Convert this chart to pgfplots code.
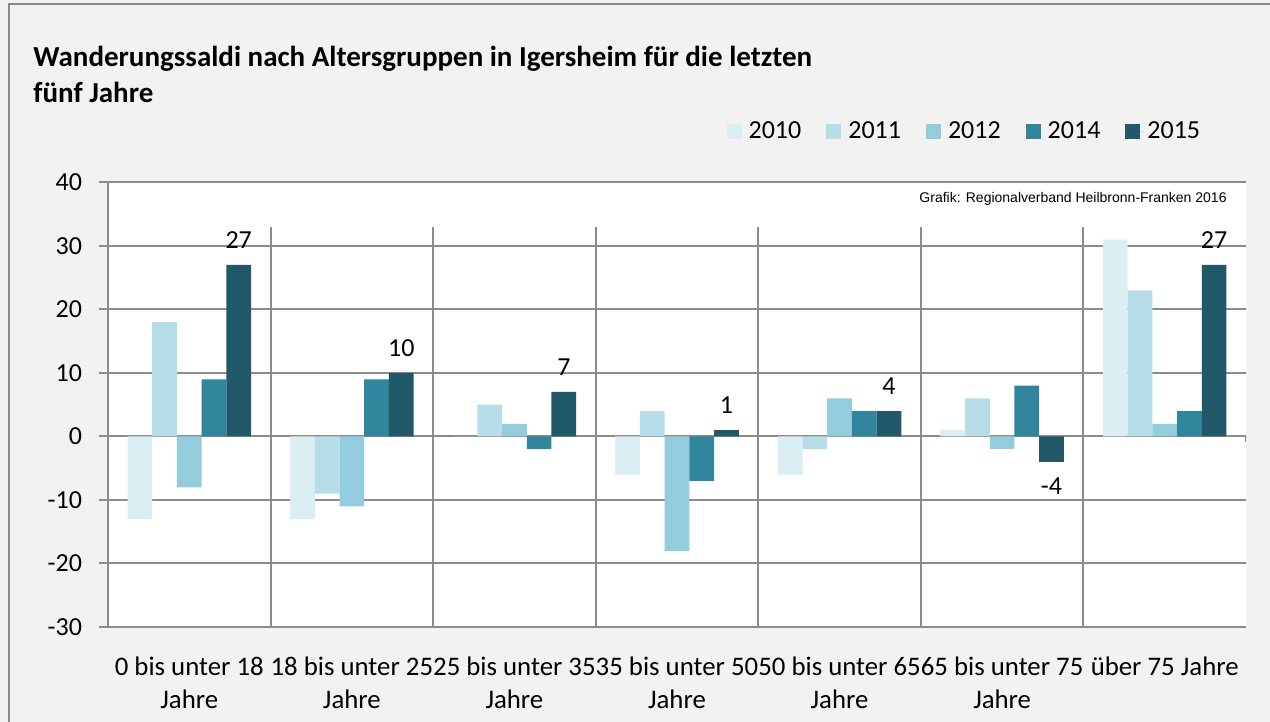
\documentclass[border=0pt]{standalone}
\usepackage{fontspec}
\setmainfont{Carlito}
\newfontfamily\arialfont{Liberation Sans}
\usepackage{pgfplots}
\pgfplotsset{compat=1.18}
\definecolor{cA}{HTML}{DBEEF4}
\definecolor{cB}{HTML}{B7DEE8}
\definecolor{cC}{HTML}{93CDDD}
\definecolor{cD}{HTML}{31859C}
\definecolor{cE}{HTML}{215968}
\definecolor{bg}{HTML}{F2F2F2}
\definecolor{gridgray}{HTML}{8C8C8C}
\begin{document}
\begin{tikzpicture}[x=0.5pt,y=0.5pt]
\useasboundingbox (0,0) rectangle (1270,722);
\fill[bg] (0,0) rectangle (1270,722);
\draw[gridgray, line width=1pt] (9,-10) -- (9,717.5) -- (1280,717.5);
\node[anchor=base west, inner sep=0, font=\bfseries\fontsize{14.5}{17}\selectfont] at (33,655) {Wanderungssaldi nach Altersgruppen in Igersheim für die letzten};
\node[anchor=base west, inner sep=0, font=\bfseries\fontsize{14.5}{17}\selectfont] at (33,619) {fünf Jahre};
\begin{axis}[
  at={(54pt,47.5pt)}, anchor=south west,
  scale only axis, width=569pt, height=222.3pt,
  xmin=-0.5, xmax=6.5, ymin=-30, ymax=40,
  ytick={-30,-20,...,40},
  xtick={0,...,6},
  xticklabels={{0 bis unter 18\\Jahre},{18 bis unter 25\\Jahre},{25 bis unter 35\\Jahre},{35 bis unter 50\\Jahre},{50 bis unter 65\\Jahre},{65 bis unter 75\\Jahre},{über 75 Jahre}},
  xticklabel style={align=center, font=\fontsize{13.4}{16.5}\selectfont},
  yticklabel style={font=\fontsize{13}{15}\selectfont},
  /pgf/number format/assume math mode=true,
  xticklabel shift=7pt,
  yticklabel shift=5pt,
  axis lines*=left,
  axis line style={gridgray, line width=1pt},
  x tick style={draw=none},
  y tick style={gridgray, line width=1pt},
  tick align=outside,
  major tick length=4.5pt,
  ymajorgrids,
  grid style={gridgray, line width=1pt},
  axis background/.style={fill=white},
  ybar=0pt, bar width=0.152,
  area legend,
  legend image code/.code={\path (0pt,0pt) -- (9pt,0pt); \fill[#1] (0pt,-3.75pt) rectangle (7.5pt,3.75pt);},
  legend style={at={(0.9636,1.114)}, anchor=east, draw=none, fill=none, inner sep=0pt,
    font=\fontsize{13}{15}\selectfont,
    /tikz/every even column/.append style={column sep=10.5pt}},
  legend columns=-1,
]
\pgfplotsinvokeforeach{0.5,1.5,2.5,3.5,4.5,5.5}{
  \draw[gridgray, line width=1pt] (axis cs:#1,33) -- (axis cs:#1,-30.6);
}
\draw[gridgray, line width=1pt] (axis cs:6.5,0) -- (axis cs:6.5,-0.8);
\addplot[fill=cA, draw=none] coordinates {(0,-13) (1,-13) (2,0) (3,-6) (4,-6) (5,1) (6,31)};
\addlegendentry{2010}
\addplot[fill=cB, draw=none] coordinates {(0,18) (1,-9) (2,5) (3,4) (4,-2) (5,6) (6,23)};
\addlegendentry{2011}
\addplot[fill=cC, draw=none] coordinates {(0,-8) (1,-11) (2,2) (3,-18) (4,6) (5,-2) (6,2)};
\addlegendentry{2012}
\addplot[fill=cD, draw=none] coordinates {(0,9) (1,9) (2,-2) (3,-7) (4,4) (5,8) (6,4)};
\addlegendentry{2014}
\addplot[fill=cE, draw=none, nodes near coords, nodes near coords align=vertical,
  every node near coord/.append style={font=\fontsize{13}{15}\selectfont, text=black, inner ysep=8pt}]
  coordinates {(0,27) (1,10) (2,7) (3,1) (4,4) (5,-4) (6,27)};
\addlegendentry{2015}
\end{axis}
\node[anchor=base east, inner sep=0, font=\arialfont\fontsize{7}{8}\selectfont] at (1227,519) {Grafik: Regionalverband Heilbronn-Franken 2016};
\end{tikzpicture}
\end{document}
